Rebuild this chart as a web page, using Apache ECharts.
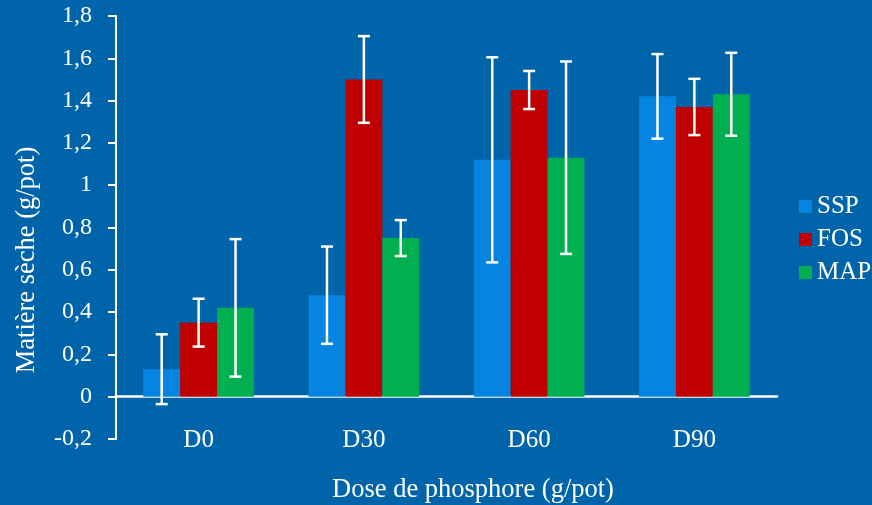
<!DOCTYPE html>
<html><head><meta charset="utf-8">
<script src="https://cdn.jsdelivr.net/npm/echarts@6/dist/echarts.min.js"></script>
<style>html,body{margin:0;padding:0;background:#0064AA;}#c{width:872px;height:505px;}</style>
</head><body><div id="c"></div>
<script>
const categories = ['D0', 'D30', 'D60', 'D90'];
const seriesNames = ['SSP', 'FOS', 'MAP'];
const ssp = [0.13, 0.48, 1.12, 1.42];
const fos = [0.35, 1.50, 1.45, 1.37];
const map = [0.42, 0.75, 1.13, 1.43];
const sspErr = [0.165, 0.23, 0.485, 0.20];
const fosErr = [0.113, 0.205, 0.09, 0.133];
const mapErr = [0.325, 0.085, 0.455, 0.196];
const yTicks = { min: -0.2, max: 1.8, interval: 0.2 };

const values = [ssp, fos, map];
const errs = [sspErr, fosErr, mapErr];
const colors = ['#0684E0', '#C00000', '#00B050'];
const font = 'Liberation Serif';
const gapPct = 0.33;

const chart = echarts.init(document.getElementById('c'));
const series = [];
values.forEach((v, i) => {
  series.push({
    name: seriesNames[i], type: 'bar', data: v,
    barGap: '0%', barCategoryGap: (gapPct * 100) + '%',
    itemStyle: { color: colors[i] }, z: 2
  });
});
values.forEach((v, i) => {
  series.push({
    type: 'custom', name: seriesNames[i] + '_err', z: 5,
    data: v.map((val, k) => [k, val - errs[i][k], val + errs[i][k]]),
    renderItem: function (params, api) {
      const k = api.value(0);
      const lo = api.coord([k, api.value(1)]);
      const hi = api.coord([k, api.value(2)]);
      const cw = api.size([1, 0])[0];
      const bw = cw * (1 - gapPct) / 3;
      const x = lo[0] + (i - 1) * bw;
      const cap = 6;
      const st = { stroke: '#FFFFFF', lineWidth: 2.5 };
      return { type: 'group', children: [
        { type: 'line', shape: { x1: x, y1: lo[1], x2: x, y2: hi[1] }, style: st },
        { type: 'line', shape: { x1: x - cap, y1: lo[1], x2: x + cap, y2: lo[1] }, style: st },
        { type: 'line', shape: { x1: x - cap, y1: hi[1], x2: x + cap, y2: hi[1] }, style: st }
      ]};
    },
    tooltip: { show: false }
  });
});

chart.setOption({
  backgroundColor: '#0064AA',
  animation: false,
  textStyle: { fontFamily: font },
  grid: { left: 116, right: 95, top: 16, bottom: 66 },
  legend: {
    data: seriesNames, orient: 'vertical', left: 794, top: 189,
    itemWidth: 13, itemHeight: 13, itemGap: 8, itemTextGap: 8, icon: 'rect',
    textStyle: { color: '#FFFFFF', fontSize: 25, fontFamily: font }
  },
  xAxis: {
    type: 'category', data: categories,
    axisLine: { onZero: true, lineStyle: { color: '#FFFFFF', width: 2.5 } },
    axisTick: { show: false },
    axisLabel: { color: '#FFFFFF', fontSize: 25, fontFamily: font, margin: -11 }
  },
  yAxis: {
    type: 'value', min: yTicks.min, max: yTicks.max, interval: yTicks.interval,
    splitLine: { show: false },
    axisLine: { show: true, onZero: false, lineStyle: { color: '#FFFFFF', width: 2 } },
    axisTick: { show: true, inside: false, length: 8, lineStyle: { color: '#FFFFFF', width: 2 } },
    axisLabel: {
      color: '#FFFFFF', fontSize: 24, fontFamily: font, margin: 24,
      formatter: v => { const r = Math.round(v * 10) / 10; return String(r).replace('.', ','); }
    }
  },
  graphic: [
    { type: 'text', x: 27, y: 260, rotation: Math.PI / 2,
      style: { text: 'Matière sèche (g/pot)', fill: '#FFFFFF', font: '26.5px "Liberation Serif"', align: 'center', verticalAlign: 'middle' } },
    { type: 'text', x: 473, y: 490,
      style: { text: 'Dose de phosphore (g/pot)', fill: '#FFFFFF', font: '26.5px "Liberation Serif"', align: 'center', verticalAlign: 'middle' } }
  ],
  series: series
});
</script></body></html>
